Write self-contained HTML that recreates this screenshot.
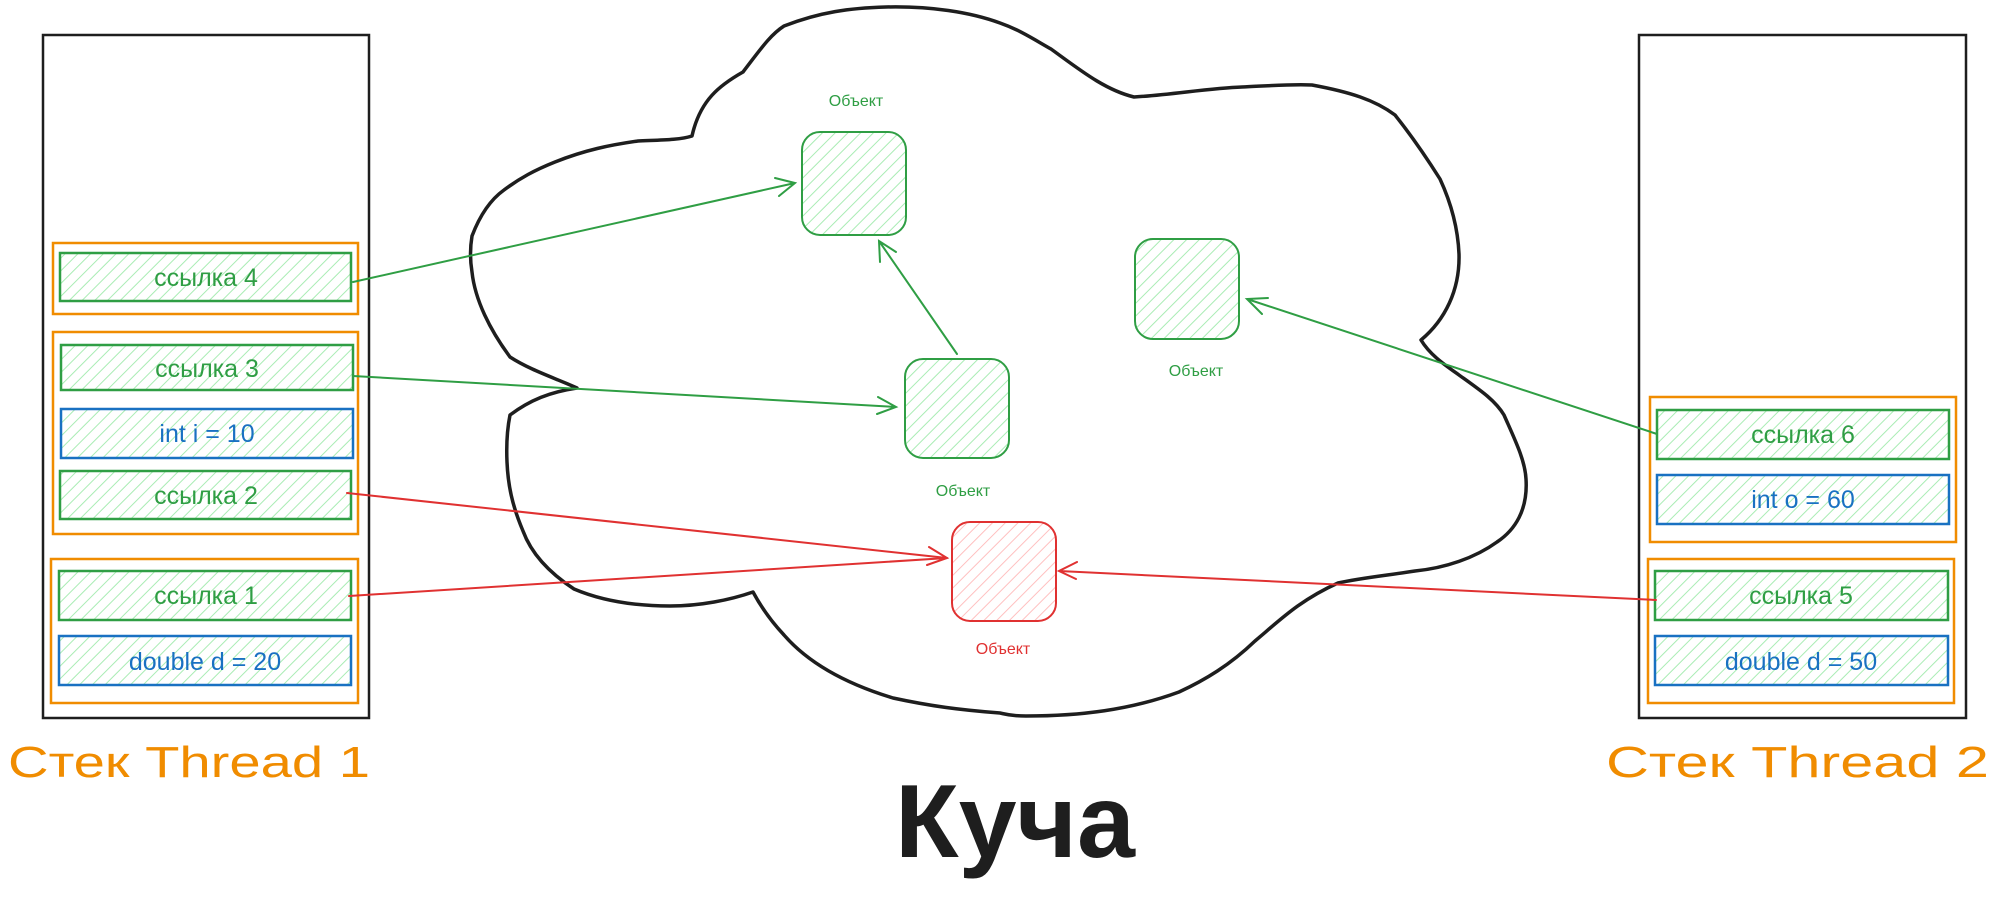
<!DOCTYPE html>
<html><head><meta charset="utf-8"><style>html,body{margin:0;padding:0;background:#fff}svg{display:block}</style></head>
<body>
<svg width="2000" height="905" viewBox="0 0 2000 905" xmlns="http://www.w3.org/2000/svg" font-family="'Liberation Sans', 'Noto Sans CJK SC', sans-serif">
<defs>
<pattern id="hg" width="9" height="9" patternUnits="userSpaceOnUse" patternTransform="rotate(45)">
<line x1="0" y1="0" x2="0" y2="9" stroke="#a9ecb4" stroke-width="2"/></pattern>
<pattern id="hr" width="9" height="9" patternUnits="userSpaceOnUse" patternTransform="rotate(45)">
<line x1="0" y1="0" x2="0" y2="9" stroke="#ffc0c0" stroke-width="2"/></pattern>
</defs>

<!-- cloud -->
<path d="M692,136 C700,100 720,85 743,72 C760,50 770,35 784,26 C820,12 850,8 886,7 C930,6 970,12 1000,23 C1020,30 1035,40 1051,49 C1080,70 1105,90 1134,97 C1170,95 1210,88 1242,87 C1265,86 1290,84 1312,85 C1350,92 1375,100 1395,115 C1415,140 1428,160 1440,179 C1452,205 1458,230 1459,254 C1460,290 1445,320 1421,340 C1430,355 1445,365 1459,375 C1480,390 1495,400 1504,415 C1515,440 1525,460 1526,479 C1528,510 1515,530 1497,542 C1475,558 1445,568 1415,571 C1390,575 1360,578 1338,583 C1300,600 1280,620 1255,641 C1230,665 1205,680 1179,692 C1130,710 1080,716 1026,716 C1010,716 1005,714 1000,713 C960,710 930,706 893,698 C850,685 810,665 784,635 C770,620 760,605 753,592 C730,600 700,606 670,606 C630,606 600,600 574,589 C545,570 530,550 523,531 C512,505 508,485 507,462 C506,440 508,425 510,415 C530,400 550,392 577,388 C555,378 530,370 510,357 C490,330 475,300 472,272 C470,260 470,248 472,236 C480,215 490,200 504,190 C520,178 535,170 555,162 C585,150 610,145 638,141 C660,140 680,140 692,136 Z" fill="none" stroke="#1e1e1e" stroke-width="3.5" stroke-linejoin="round"/>

<!-- stack 1 -->
<rect x="43" y="35" width="326" height="683" fill="none" stroke="#1e1e1e" stroke-width="2.5"/>
<rect x="53" y="243" width="305" height="71" fill="none" stroke="#f08c00" stroke-width="2.5"/>
<rect x="53" y="332" width="305" height="202" fill="none" stroke="#f08c00" stroke-width="2.5"/>
<rect x="51" y="559" width="307" height="144" fill="none" stroke="#f08c00" stroke-width="2.5"/>
<g stroke-width="2.5">
<rect x="60" y="253" width="291" height="48" fill="url(#hg)" stroke="#2f9e44"/>
<rect x="61" y="345" width="292" height="45" fill="url(#hg)" stroke="#2f9e44"/>
<rect x="61" y="409" width="292" height="49" fill="url(#hg)" stroke="#1971c2"/>
<rect x="60" y="471" width="291" height="48" fill="url(#hg)" stroke="#2f9e44"/>
<rect x="59" y="571" width="292" height="49" fill="url(#hg)" stroke="#2f9e44"/>
<rect x="59" y="636" width="292" height="49" fill="url(#hg)" stroke="#1971c2"/>
</g>
<g font-size="25" text-anchor="middle">
<text x="206" y="286" fill="#2f9e44">ссылка 4</text>
<text x="207" y="377" fill="#2f9e44">ссылка 3</text>
<text x="207" y="442" fill="#1971c2">int i = 10</text>
<text x="206" y="504" fill="#2f9e44">ссылка 2</text>
<text x="206" y="604" fill="#2f9e44">ссылка 1</text>
<text x="205" y="670" fill="#1971c2">double d = 20</text>
</g>
<text x="8" y="777" font-size="44" fill="#f08c00" textLength="362" lengthAdjust="spacingAndGlyphs">Стек Thread 1</text>

<!-- stack 2 -->
<rect x="1639" y="35" width="327" height="683" fill="none" stroke="#1e1e1e" stroke-width="2.5"/>
<rect x="1650" y="397" width="306" height="145" fill="none" stroke="#f08c00" stroke-width="2.5"/>
<rect x="1648" y="559" width="306" height="144" fill="none" stroke="#f08c00" stroke-width="2.5"/>
<g stroke-width="2.5">
<rect x="1657" y="410" width="292" height="49" fill="url(#hg)" stroke="#2f9e44"/>
<rect x="1657" y="475" width="292" height="49" fill="url(#hg)" stroke="#1971c2"/>
<rect x="1655" y="571" width="293" height="49" fill="url(#hg)" stroke="#2f9e44"/>
<rect x="1655" y="636" width="293" height="49" fill="url(#hg)" stroke="#1971c2"/>
</g>
<g font-size="25" text-anchor="middle">
<text x="1803" y="443" fill="#2f9e44">ссылка 6</text>
<text x="1803" y="508" fill="#1971c2">int o = 60</text>
<text x="1801" y="604" fill="#2f9e44">ссылка 5</text>
<text x="1801" y="670" fill="#1971c2">double d = 50</text>
</g>
<text x="1606" y="777" font-size="44" fill="#f08c00" textLength="383" lengthAdjust="spacingAndGlyphs">Стек Thread 2</text>

<!-- objects -->
<rect x="802" y="132" width="104" height="103" rx="18" fill="url(#hg)" stroke="#2f9e44" stroke-width="2"/>
<rect x="905" y="359" width="104" height="99" rx="18" fill="url(#hg)" stroke="#2f9e44" stroke-width="2"/>
<rect x="1135" y="239" width="104" height="100" rx="18" fill="url(#hg)" stroke="#2f9e44" stroke-width="2"/>
<rect x="952" y="522" width="104" height="99" rx="18" fill="url(#hr)" stroke="#e03131" stroke-width="2"/>
<g font-size="16" text-anchor="middle">
<text x="856" y="106" fill="#2f9e44">Объект</text>
<text x="963" y="496" fill="#2f9e44">Объект</text>
<text x="1196" y="376" fill="#2f9e44">Объект</text>
<text x="1003" y="654" fill="#e03131">Объект</text>
</g>

<!-- arrows -->
<g fill="none" stroke-width="2" stroke-linecap="round">
<g stroke="#2f9e44">
<path d="M353,282 L795,183 M775,178 L795,183 L779,196"/>
<path d="M353,376 L896,407 M878,397 L896,407 L877,414"/>
<path d="M957,354 L879,241 M880,262 L879,241 L896,252"/>
<path d="M1657,434 L1247,299 M1262,314 L1247,299 L1268,298"/>
</g>
<g stroke="#e03131">
<path d="M347,493 L947,558 M929,547 L947,558 L927,565"/>
<path d="M349,596 L947,558"/>
<path d="M1656,600 L1059,571 M1077,562 L1059,571 L1076,579"/>
</g>
</g>

<text x="1015" y="857" font-size="104" font-weight="bold" fill="#1e1e1e" text-anchor="middle" textLength="240" lengthAdjust="spacingAndGlyphs">Куча</text>
</svg>
</body></html>
